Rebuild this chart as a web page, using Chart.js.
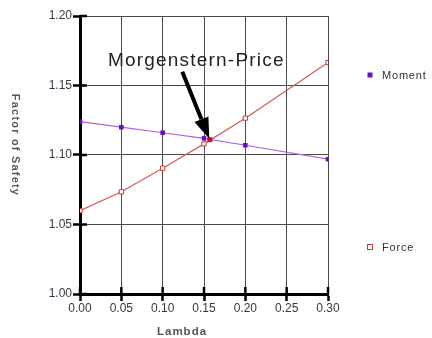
<!DOCTYPE html>
<html>
<head>
<meta charset="utf-8">
<script src="https://cdn.jsdelivr.net/npm/chart.js@4.4.1/dist/chart.umd.min.js"></script>
<style>
  body { margin: 0; background: #fff; }
  canvas { display: block; }
</style>
</head>
<body>
<canvas id="fos" width="432" height="338"></canvas>
<script>
// lambda values and factor of safety for each method
var lambda = [0.00, 0.05, 0.10, 0.15, 0.20, 0.30];
var moment_fos = [1.124, 1.120, 1.116, 1.112, 1.107, 1.097];
var force_fos = [1.060, 1.0735, 1.0905, 1.108, 1.1265, 1.1665];

// crossing point of the two curves
var mp_lambda = [0.157];
var mp_fos = [1.111];

var x_ticks = [0.00, 0.05, 0.10, 0.15, 0.20, 0.25, 0.30];
var y_ticks = [1.00, 1.05, 1.10, 1.15, 1.20];

function pts(xs, ys) {
    var out = [];
    for (var i = 0; i < xs.length; i++) {
        out.push({x: xs[i], y: ys[i]});
    }
    return out;
}

var font_name = "'Liberation Sans', Arial, sans-serif";

// tick marks crossing into the plot, the arrow, legend and axis titles
var extras = {
    id: "extras",
    afterDraw: function(chart) {
        var ctx = chart.ctx;
        var xs = chart.scales.x;
        var ys = chart.scales.y;
        var area = chart.chartArea;

        ctx.save();
        ctx.strokeStyle = "#000";
        ctx.lineWidth = 2.5;
        for (const v of x_ticks) {
            var px = xs.getPixelForValue(v);
            ctx.beginPath();
            ctx.moveTo(px, area.bottom);
            ctx.lineTo(px, area.bottom - 7);
            ctx.stroke();
        }
        for (const v of y_ticks) {
            var py = ys.getPixelForValue(v);
            ctx.beginPath();
            ctx.moveTo(area.left, py);
            ctx.lineTo(area.left + 7, py);
            ctx.stroke();
        }

        // arrow pointing at the crossing
        var tx = xs.getPixelForValue(mp_lambda[0]) - 0.5;
        var ty = ys.getPixelForValue(mp_fos[0]) - 1;
        var sx = tx - 27, sy = ty - 67;
        var ang = Math.atan2(ty - sy, tx - sx);
        var head = 21, half = 7.5;
        var bx = tx - head * Math.cos(ang), by = ty - head * Math.sin(ang);
        ctx.lineWidth = 4;
        ctx.beginPath();
        ctx.moveTo(sx, sy);
        ctx.lineTo(bx, by);
        ctx.stroke();
        ctx.fillStyle = "#000";
        ctx.beginPath();
        ctx.moveTo(tx, ty);
        ctx.lineTo(bx + half * Math.sin(ang), by - half * Math.cos(ang));
        ctx.lineTo(bx - half * Math.sin(ang), by + half * Math.cos(ang));
        ctx.closePath();
        ctx.fill();

        ctx.fillStyle = "#222";
        ctx.font = "19px " + font_name;
        ctx.letterSpacing = "1.2px";
        ctx.textAlign = "left";
        ctx.textBaseline = "alphabetic";
        ctx.fillText("Morgenstern-Price", 108, 66);

        // legend
        ctx.letterSpacing = "0.8px";
        ctx.font = "11px " + font_name;
        ctx.textBaseline = "middle";
        ctx.fillStyle = "#6c0ac4";
        ctx.fillRect(367.5, 72.5, 5, 5);
        ctx.fillStyle = "#333";
        ctx.fillText("Moment", 382, 75.5);
        ctx.strokeStyle = "#c83a3a";
        ctx.lineWidth = 1;
        ctx.strokeRect(367.5, 244.5, 5, 5);
        ctx.fillText("Force", 382, 247.5);

        // axis titles
        ctx.fillStyle = "#555";
        ctx.font = "bold 11.5px " + font_name;
        ctx.letterSpacing = "1px";
        ctx.textAlign = "center";
        ctx.fillText("Lambda", 182, 332);

        ctx.translate(15, 145);
        ctx.rotate(Math.PI / 2);
        ctx.font = "bold 11px " + font_name;
        ctx.letterSpacing = "1.2px";
        ctx.fillText("Factor of Safety", 0, 0);
        ctx.restore();
    }
};

var chart_fos = new Chart(document.getElementById("fos"), {
    type: "line",
    data: {
        datasets: [
            {
                label: "Moment",
                data: pts(lambda, moment_fos),
                borderColor: "#a866e6",
                borderWidth: 1.2,
                pointStyle: "rect",
                pointRadius: 3.2,
                pointBackgroundColor: "#6c0ac4",
                pointBorderColor: "#6c0ac4",
                pointBorderWidth: 0,
                tension: 0
            },
            {
                label: "Force",
                data: pts(lambda, force_fos),
                borderColor: "#d75a5a",
                borderWidth: 1.2,
                pointStyle: "rect",
                pointRadius: 3,
                pointBackgroundColor: "#fff",
                pointBorderColor: "#c83a3a",
                pointBorderWidth: 1,
                tension: 0
            },
            {
                label: "M-P",
                data: pts(mp_lambda, mp_fos),
                order: -1,
                showLine: false,
                pointStyle: "rect",
                pointRadius: 3.5,
                pointBackgroundColor: "#c4123a",
                pointBorderColor: "#c4123a",
                pointBorderWidth: 0
            }
        ]
    },
    options: {
        responsive: false,
        animation: false,
        devicePixelRatio: 1,
        layout: { padding: { left: 0, top: 16, right: 104, bottom: 0 } },
        plugins: {
            legend: { display: false },
            tooltip: { enabled: false }
        },
        scales: {
            x: {
                type: "linear",
                min: 0,
                max: 0.3,
                afterFit: function(scale) { scale.height = 44; },
                afterBuildTicks: function(scale) {
                    scale.ticks = x_ticks.map(function(v) { return {value: v}; });
                },
                ticks: {
                    padding: 0,
                    color: "#333a45",
                    font: { family: font_name, size: 12 },
                    maxRotation: 0,
                    callback: function(v) { return v.toFixed(2); }
                },
                grid: {
                    color: "#4a4a4a",
                    lineWidth: 1,
                    tickLength: 7,
                    tickColor: "#000",
                    tickWidth: 2.5
                },
                border: { color: "#000", width: 3 }
            },
            y: {
                min: 1.0,
                max: 1.2,
                afterFit: function(scale) { scale.width = 80; },
                afterBuildTicks: function(scale) {
                    scale.ticks = y_ticks.map(function(v) { return {value: v}; });
                },
                ticks: {
                    padding: 1,
                    color: "#333a45",
                    font: { family: font_name, size: 12 },
                    callback: function(v) { return v.toFixed(2); }
                },
                grid: {
                    color: "#4a4a4a",
                    lineWidth: 1,
                    tickLength: 7,
                    tickColor: "#000",
                    tickWidth: 2.5
                },
                border: { color: "#000", width: 3 }
            }
        }
    },
    plugins: [extras]
});
</script>
</body>
</html>
